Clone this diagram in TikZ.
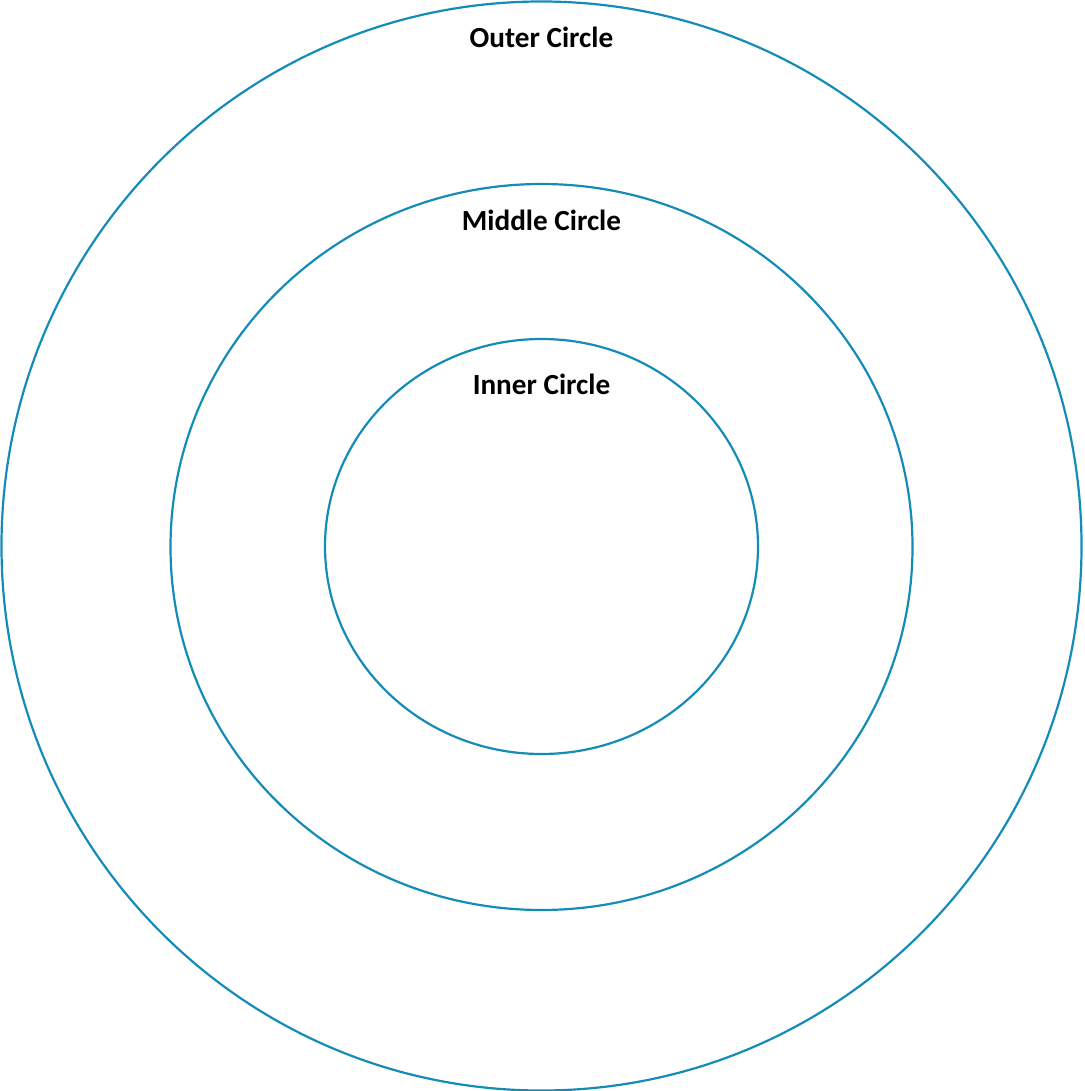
\documentclass[tikz,border=0pt]{standalone}
\usepackage{fontspec}
\setmainfont{Carlito}
\usepackage{tikz}
\usetikzlibrary{shapes.geometric, positioning}
\definecolor{ringblue}{RGB}{20,140,184}

\begin{document}
\begin{tikzpicture}[
  x=0.5pt, y=-0.5pt,
  ring/.style={
    ellipse, draw=ringblue, line width=1.1pt, inner sep=0pt
  },
  lbl/.style={font=\fontsize{14.6}{17}\selectfont\bfseries, inner sep=0pt, text=black}
]
\useasboundingbox (0,0) rectangle (1085,1091);

% Rings
\node[ring, minimum width=540pt, minimum height=544.5pt] (outer) at (541.5,546) {};
\node[ring, minimum width=371pt, minimum height=363pt] (middle) at (541.5,547) {};
\node[ring, minimum width=216.5pt, minimum height=207.5pt] (inner) at (541.5,546.5) {};

% Labels
\node[lbl, below=13.3pt of outer.north] (outerlbl) {Outer Circle};
\node[lbl, below=13.3pt of middle.north] (middlelbl) {Middle Circle};
\node[lbl, below=17.8pt of inner.north] (innerlbl) {Inner Circle};

\end{tikzpicture}
\end{document}
